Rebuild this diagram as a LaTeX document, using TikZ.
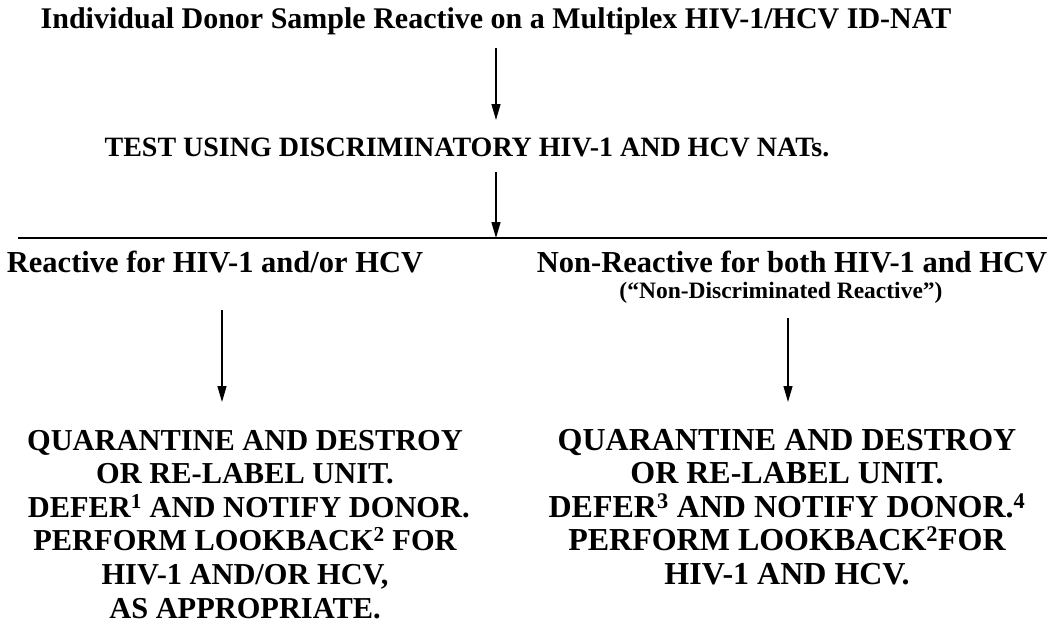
\documentclass[tikz,border=0pt]{standalone}
\usepackage{fontspec}
\setmainfont{Liberation Serif}
\usetikzlibrary{arrows.meta}
\begin{document}
\begin{tikzpicture}[x=1pt,y=-1pt,
  every node/.style={inner sep=0pt,outer sep=0pt,font=\bfseries},
  arr/.style={line width=1.3pt,-{Stealth[length=16pt,width=9pt,inset=0pt]}},
  ttl/.style={font=\bfseries\fontsize{30}{34}\selectfont,anchor=base},
  tst/.style={font=\bfseries\fontsize{28}{32}\selectfont,anchor=base},
  hdr/.style={font=\bfseries\fontsize{30.5}{34}\selectfont,anchor=base},
  sml/.style={font=\bfseries\fontsize{23.5}{27}\selectfont,anchor=base},
  blk/.style={font=\bfseries\fontsize{30.4}{33.6}\selectfont,align=center,anchor=north},
  blkr/.style={font=\bfseries\fontsize{32}{33.6}\selectfont,align=center,anchor=north}]
\useasboundingbox (0,0) rectangle (1052,624);
\node[ttl] (title) at (496,28) {Individual Donor Sample Reactive on a Multiplex HIV-1/HCV ID-NAT};
\node[tst] (test) at (467,156) {TEST USING DISCRIMINATORY HIV-1 AND HCV NATs.};
\coordinate (hl) at (18,238);
\coordinate (hr) at (1047,238);
\coordinate (hm) at (496,238);
\draw[line width=1.8pt] (hl) -- (hr);
\draw[arr] (496,48) -- (496,120);
\draw[arr] (496,172) -- (hm);
\node[hdr] (react) at (215,272) {Reactive for HIV-1 and/or HCV};
\node[hdr] (nonreact) at (792,272) {Non-Reactive for both HIV-1 and HCV};
\node[sml] (ndr) at (781,298) {(“Non-Discriminated Reactive”)};
\coordinate (la1) at (222,310);
\coordinate (la2) at (222,402);
\coordinate (ra1) at (788,318);
\coordinate (ra2) at (788,402);
\draw[arr] (la1) -- (la2);
\draw[arr] (ra1) -- (ra2);
\node[blk] (lblk) at (245,430) {QUARANTINE AND DESTROY\\OR RE-LABEL UNIT.\\\ DEFER\textsuperscript{1} AND NOTIFY DONOR.\\PERFORM LOOKBACK\textsuperscript{2}\ FOR\\HIV-1 AND/OR HCV,\\AS APPROPRIATE.};
\node[blkr] (rblk) at (787,429) {QUARANTINE AND DESTROY\\OR RE-LABEL UNIT.\\DEFER\textsuperscript{3} AND NOTIFY DONOR.\textsuperscript{4}\\PERFORM LOOKBACK\textsuperscript{2}FOR\\HIV-1 AND HCV.};
\end{tikzpicture}
\end{document}
